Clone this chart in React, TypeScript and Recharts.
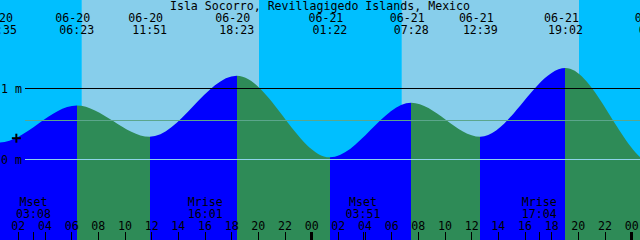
import { ComposedChart, Area, XAxis, YAxis, ReferenceArea, ReferenceLine, ReferenceDot } from "recharts";

// hours counted from 06-20 00:00
const startHour = 0.625;
const endHour = 48.625;

const tideHours = [-6.2, 0.583, 6.383, 11.85, 18.383, 25.367, 31.467, 36.65, 43.033, 49.833, 56.5];
const tideHeights = [1.1, 0.24, 0.76, 0.32, 1.18, 0.03, 0.8, 0.32, 1.29, -0.08, 0.85];
const tideDates = ["06-19", "06-20", "06-20", "06-20", "06-20", "06-21", "06-21", "06-21", "06-21", "06-22", "06-22"];
const tideClock = ["18:12", "00:35", "06:23", "11:51", "18:23", "01:22", "07:28", "12:39", "19:02", "01:50", "08:30"];

const sunrise = [6.767, 30.767];
const sunset = [20.05, 44.05];

const moonHours = [3.133, 16.017, 27.85, 41.067];
const moonNames = ["Mset", "Mrise", "Mset", "Mrise"];
const moonClock = ["03:08", "16:01", "03:51", "17:04"];

const hourTicks = [2, 4, 6, 8, 10, 12, 14, 16, 18, 20, 22, 24, 26, 28, 30, 32, 34, 36, 38, 40, 42, 44, 46, 48];

const levelMarks = [0, 1];
const levelLabels = ["0 m", "1 m"];
const meanLevel = 0.55;
const markHour = 1.85;
const markLevel = 0.3;

const title = "Isla Socorro, Revillagigedo Islands, Mexico";

const NIGHT = "#00BFFF";
const DAY = "#87CEEB";
const FLOOD = "#0000FF";
const EBB = "#2E8B57";
const font = { fontFamily: "'DejaVu Sans Mono', monospace", fontSize: 11.6, fill: "#000" };

const W = 640;
const H = 240;

const data = tideHours.map((t, i) => ({ t, h: tideHeights[i] }));

const nights = [
  [startHour, sunrise[0]],
  [sunset[0], sunrise[1]],
  [sunset[1], endHour],
];
const days = sunrise.map((r, i) => [r, sunset[i]]);

const frac = (t: number) => Math.min(1, Math.max(0, (t - startHour) / (endHour - startHour)));
const lineStart = startHour + ((endHour - startHour) * 25) / W;
const pad = (n: number) => String(n).padStart(2, "0");

const HourTick = ({ x, y, payload }: any) => {
  const v = payload.value;
  const isMoon = moonHours.includes(v);
  return (
    <g>
      <line
        x1={x}
        x2={x}
        y1={y + 2}
        y2={y + 10}
        stroke="#000"
        strokeWidth={v % 24 === 0 ? 3 : 1}
        shapeRendering="crispEdges"
      />
      {!isMoon && (
        <text x={x} y={y} textAnchor="middle" style={font}>
          {pad(v % 24)}
        </text>
      )}
    </g>
  );
};

export default function App() {
  return (
    <div style={{ position: "relative", width: W, height: H }}>
      <style>{"body{margin:0}"}</style>
      <ComposedChart width={W} height={H} data={data} margin={{ top: 0, right: 0, bottom: 0, left: 0 }}>
        <defs>
          <linearGradient id="tideFill" gradientUnits="userSpaceOnUse" x1={0} y1={0} x2={W} y2={0}>
            {tideHours.slice(1).map((t, i) => {
              const c = tideHeights[i + 1] > tideHeights[i] ? FLOOD : EBB;
              return [
                <stop key={`a${i}`} offset={frac(tideHours[i])} stopColor={c} />,
                <stop key={`b${i}`} offset={frac(t)} stopColor={c} />,
              ];
            })}
          </linearGradient>
        </defs>
        <XAxis
          type="number"
          dataKey="t"
          domain={[startHour, endHour]}
          allowDataOverflow
          ticks={[...hourTicks, ...moonHours]}
          interval={0}
          mirror
          axisLine={false}
          tickLine={{ stroke: "none" }}
          tickSize={8}
          tickMargin={2}
          tick={<HourTick />}
        />
        <YAxis type="number" domain={[-1.1338, 2.2465]} allowDataOverflow hide />
        {nights.map(([a, b], i) => (
          <ReferenceArea key={`n${i}`} x1={a} x2={b} fill={NIGHT} fillOpacity={1} stroke="none" />
        ))}
        {days.map(([a, b], i) => (
          <ReferenceArea key={`d${i}`} x1={a} x2={b} fill={DAY} fillOpacity={1} stroke="none" />
        ))}
        <Area
          type="monotone"
          dataKey="h"
          stroke="none"
          fill="url(#tideFill)"
          fillOpacity={1}
          baseValue="dataMin"
          dot={false}
          activeDot={false}
          isAnimationActive={false}
        />
        {levelMarks.map((lv, i) => (
          <ReferenceLine
            key={`l${i}`}
            segment={[{ x: lineStart, y: lv }, { x: endHour, y: lv }]}
            stroke={lv === 0 ? "#8ED3EA" : "#000"}
            strokeWidth={1}
            shapeRendering="crispEdges"
            label={(p: any) => (
              <text x={1} y={p.viewBox.y + 4} style={font}>
                {levelLabels[i]}
              </text>
            )}
          />
        ))}
        <ReferenceLine
          segment={[{ x: lineStart, y: meanLevel }, { x: endHour, y: meanLevel }]}
          stroke="#5BA68C"
          strokeWidth={1}
          shapeRendering="crispEdges"
        />
        <ReferenceDot
          x={markHour}
          y={markLevel}
          r={0}
          shape={(p: any) => (
            <g stroke="#000" strokeWidth={2}>
              <line x1={p.cx - 4.5} x2={p.cx + 4.5} y1={p.cy} y2={p.cy} />
              <line x1={p.cx} x2={p.cx} y1={p.cy - 4.5} y2={p.cy + 4.5} />
            </g>
          )}
        />
        {tideHours.map((t, i) => (
          <ReferenceLine
            key={`h${i}`}
            x={t}
            stroke="none"
            ifOverflow="visible"
            label={(p: any) => (
              <g>
                <text x={p.viewBox.x - 4} y={22} textAnchor="middle" style={font}>
                  {tideDates[i]}
                </text>
                <text x={p.viewBox.x} y={34} textAnchor="middle" style={font}>
                  {tideClock[i]}
                </text>
              </g>
            )}
          />
        ))}
        {moonHours.map((t, i) => (
          <ReferenceLine
            key={`m${i}`}
            x={t}
            stroke="none"
            label={(p: any) => (
              <g>
                <text x={p.viewBox.x} y={206} textAnchor="middle" style={font}>
                  {moonNames[i]}
                </text>
                <text x={p.viewBox.x} y={218} textAnchor="middle" style={font}>
                  {moonClock[i]}
                </text>
              </g>
            )}
          />
        ))}
      </ComposedChart>
      <svg width={W} height={14} style={{ position: "absolute", left: 0, top: 0, pointerEvents: "none" }}>
        <text x={W / 2} y={10} textAnchor="middle" style={font}>
          {title}
        </text>
      </svg>
    </div>
  );
}
